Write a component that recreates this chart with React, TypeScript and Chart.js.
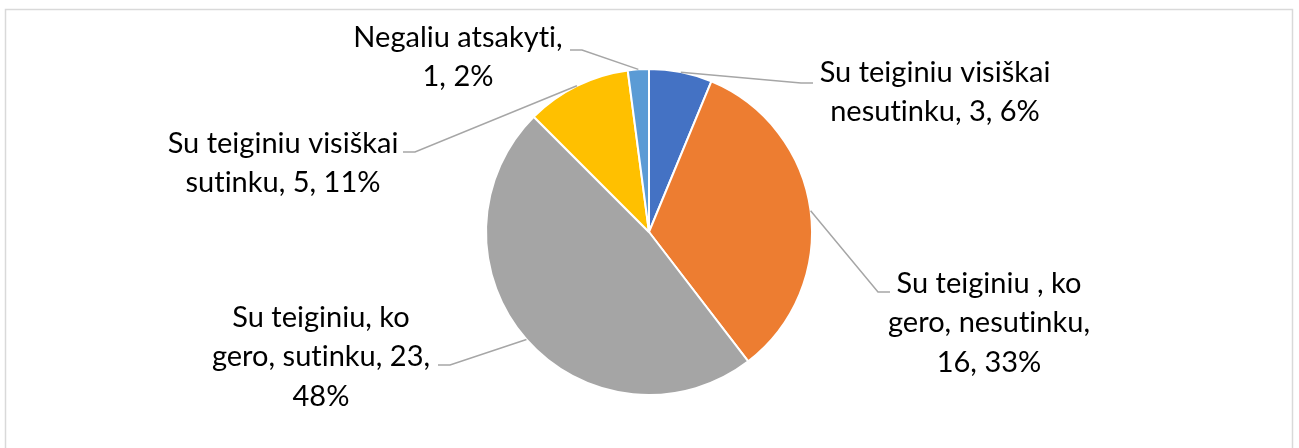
import React, { useEffect, useRef } from "react";
import { Chart, registerables } from "chart.js";

Chart.register(...registerables);

const categories = [
  "Su teiginiu visiškai nesutinku",
  "Su teiginiu , ko gero, nesutinku",
  "Su teiginiu, ko gero, sutinku",
  "Su teiginiu visiškai sutinku",
  "Negaliu atsakyti",
];
const values = [3, 16, 23, 5, 1];
const percents = ["6%", "33%", "48%", "11%", "2%"];
const labelLines = [
  ["Su teiginiu visiškai", "nesutinku, 3, 6%"],
  ["Su teiginiu , ko", "gero, nesutinku,", "16, 33%"],
  ["Su teiginiu, ko", "gero, sutinku, 23,", "48%"],
  ["Su teiginiu visiškai", "sutinku, 5, 11%"],
  ["Negaliu atsakyti,", "1, 2%"],
];
const colors = ["#4472C4", "#ED7D31", "#A5A5A5", "#FFC000", "#5B9BD5"];

// layout: label block centre and leader end, relative to pie centre (px)
const labelLayout = [
  { cx: 286, cy: -140, ex: 164, ey: -149, dir: 1 },
  { cx: 340, cy: 91, ex: 241, ey: 60, dir: 1 },
  { cx: -328, cy: 125, ex: -211, ey: 133, dir: -1 },
  { cx: -366, cy: -69, ex: -246, ey: -80, dir: -1 },
  { cx: -191, cy: -175, ex: -79, ey: -182, dir: -1 },
];

const FONT = "29px Lato";
const LINE_H = 39.5;

const labelPlugin = {
  id: "pieLabels",
  beforeDraw(chart: any) {
    const ctx = chart.ctx;
    ctx.save();
    ctx.strokeStyle = "#D9D9D9";
    ctx.lineWidth = 1.5;
    ctx.strokeRect(5.5, 9.5, 1287, 460);
    ctx.restore();
  },
  afterDatasetsDraw(chart: any) {
    const ctx = chart.ctx;
    const meta = chart.getDatasetMeta(0);
    ctx.save();
    meta.data.forEach((arc: any, i: number) => {
      const p = arc.getProps(["x", "y", "startAngle", "endAngle", "outerRadius"], true);
      const mid = (p.startAngle + p.endAngle) / 2;
      const sx = p.x + Math.cos(mid) * p.outerRadius;
      const sy = p.y + Math.sin(mid) * p.outerRadius;
      const L = labelLayout[i];
      const ex = p.x + L.ex;
      const ey = p.y + L.ey;
      ctx.strokeStyle = "#A6A6A6";
      ctx.lineWidth = 1.5;
      ctx.beginPath();
      ctx.moveTo(sx, sy);
      ctx.lineTo(ex - L.dir * 12, ey);
      ctx.lineTo(ex, ey);
      ctx.stroke();

      const lines = labelLines[i];
      ctx.fillStyle = "#000000";
      ctx.font = FONT;
      try { (ctx as any).letterSpacing = "0.01px"; } catch (e) {}
      ctx.textAlign = "center";
      ctx.textBaseline = "middle";
      const cx = p.x + L.cx;
      const cy = p.y + L.cy;
      const top = cy - ((lines.length - 1) * LINE_H) / 2;
      lines.forEach((t, j) => ctx.fillText(t, cx, top + j * LINE_H));
    });
    ctx.restore();
  },
};

export default function App() {
  const ref = useRef<HTMLCanvasElement | null>(null);
  useEffect(() => {
    if (!ref.current) return;
    const chart = new Chart(ref.current, {
      type: "pie",
      data: {
        labels: categories,
        datasets: [
          {
            data: values,
            backgroundColor: colors,
            borderColor: "#FFFFFF",
            borderWidth: 2,
          },
        ],
      },
      options: {
        animation: false,
        responsive: false,
        maintainAspectRatio: false,
        layout: { padding: { top: 68, bottom: 52, left: 485, right: 486 } },
        plugins: {
          legend: { display: false },
          tooltip: { enabled: false },
        },
      },
      plugins: [labelPlugin],
    });
    return () => chart.destroy();
  }, []);
  return (
    <div style={{ position: "absolute", left: 0, top: 0, width: 1299, height: 448, background: "#fff" }}>
      <canvas ref={ref} width={1299} height={448} style={{ display: "block" }} />
    </div>
  );
}
